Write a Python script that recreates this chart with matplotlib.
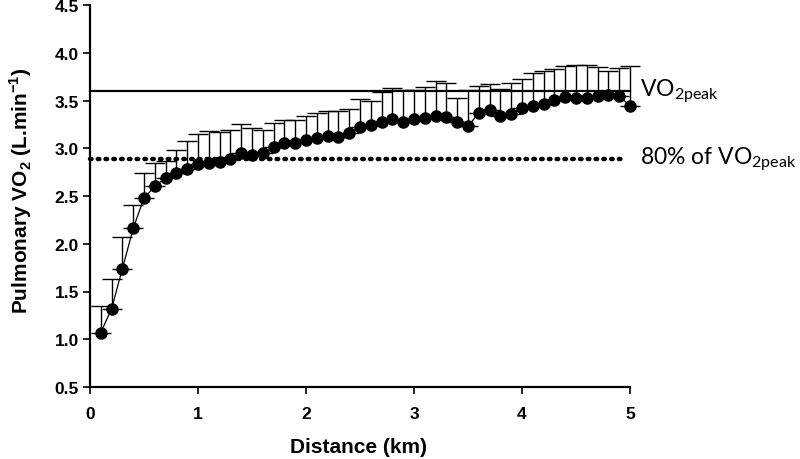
import matplotlib
matplotlib.use("Agg")
import matplotlib.pyplot as plt
import numpy as np

plt.rcParams['mathtext.fontset'] = 'custom'
plt.rcParams['mathtext.rm'] = 'Lato'
plt.rcParams['mathtext.bf'] = 'Liberation Sans:bold'

distance = [0.1, 0.2, 0.3, 0.4, 0.5, 0.6, 0.7, 0.8, 0.9, 1.0,
            1.1, 1.2, 1.3, 1.4, 1.5, 1.6, 1.7, 1.8, 1.9, 2.0,
            2.1, 2.2, 2.3, 2.4, 2.5, 2.6, 2.7, 2.8, 2.9, 3.0,
            3.1, 3.2, 3.3, 3.4, 3.5, 3.6, 3.7, 3.8, 3.9, 4.0,
            4.1, 4.2, 4.3, 4.4, 4.5, 4.6, 4.7, 4.8, 4.9, 5.0]
vo2_mean = [1.07, 1.32, 1.74, 2.16, 2.48, 2.60, 2.69, 2.74, 2.78, 2.83,
            2.85, 2.86, 2.89, 2.95, 2.93, 2.95, 3.01, 3.05, 3.06, 3.09,
            3.11, 3.13, 3.12, 3.16, 3.22, 3.24, 3.28, 3.31, 3.28, 3.31,
            3.32, 3.34, 3.33, 3.28, 3.23, 3.37, 3.40, 3.34, 3.36, 3.42,
            3.44, 3.46, 3.51, 3.54, 3.53, 3.53, 3.55, 3.56, 3.55, 3.44]
vo2_upper = [1.35, 1.63, 2.07, 2.41, 2.74, 2.85, 2.87, 2.98, 3.08, 3.15,
             3.18, 3.17, 3.19, 3.25, 3.21, 3.19, 3.26, 3.30, 3.30, 3.34,
             3.37, 3.39, 3.39, 3.41, 3.52, 3.50, 3.59, 3.63, 3.61, 3.61,
             3.64, 3.70, 3.68, 3.53, 3.61, 3.65, 3.67, 3.62, 3.68, 3.72,
             3.79, 3.81, 3.83, 3.86, 3.87, 3.87, 3.85, 3.81, 3.84, 3.86]
vo2_peak = 3.60
vo2_80 = 2.89
x_ticks = [0, 1, 2, 3, 4, 5]
y_ticks = [0.5, 1.0, 1.5, 2.0, 2.5, 3.0, 3.5, 4.0, 4.5]

fig = plt.figure(figsize=(8, 4.6), dpi=100)
ax = fig.add_axes([90/800, 1-388/460, 540/800, 382/460])

mean = np.array(vo2_mean)
upper = np.array(vo2_upper)
yerr = np.vstack([np.zeros_like(mean), upper - mean])

ax.errorbar(distance, vo2_mean, yerr=yerr, fmt='none', ecolor='black',
            elinewidth=1.0, capsize=7.5, capthick=1.0, clip_on=False, zorder=2)
ax.plot(distance, vo2_mean, color='black', lw=0.9, marker='o', ms=8,
        mfc='black', mec='black', clip_on=False, zorder=3)

ax.plot([0, 5], [vo2_peak, vo2_peak], color='black', lw=1.6, clip_on=False, zorder=4)
ax.plot([0, 4.95], [vo2_80, vo2_80], color='black', lw=3.2,
        dashes=(0.35, 1.4), dash_capstyle='round', clip_on=False, zorder=1)

ax.text(5.09, vo2_peak, r'VO$_{\mathrm{2peak}}$', fontsize=16.5, family='Lato',
        va='center', ha='left', clip_on=False)
ax.text(5.09, vo2_80, r'80% of VO$_{\mathrm{2peak}}$', fontsize=16.5, family='Lato',
        va='center', ha='left', clip_on=False)

ax.set_xlim(0, 5)
ax.set_ylim(0.5, 4.5)
ax.set_xticks(x_ticks)
ax.set_yticks(y_ticks)
ax.set_xticklabels([str(t) for t in x_ticks])
ax.set_yticklabels([f'{t:.1f}' for t in y_ticks])
for lbl in ax.get_xticklabels() + ax.get_yticklabels():
    lbl.set_fontfamily('Liberation Sans')
    lbl.set_fontweight('bold')
    lbl.set_fontsize(12.5)
ax.tick_params(direction='out', length=5, width=1.2, colors='black')
ax.tick_params(axis='y', pad=3)
ax.tick_params(axis='x', pad=9)

ax.spines['top'].set_visible(False)
ax.spines['right'].set_visible(False)
ax.spines['left'].set_linewidth(1.6)
ax.spines['bottom'].set_linewidth(1.6)

fig.text(359/800, 1-448/460, 'Distance (km)', fontsize=15, fontweight='bold',
         family='Liberation Sans', ha='center', va='center')
fig.text(21/800, 1-191/460, r'Pulmonary VO$_\mathbf{2}$ (L.min$^\mathbf{-1}$)',
         fontsize=15, fontweight='bold', family='Liberation Sans',
         ha='center', va='center', rotation=90)

fig.savefig('out.png', dpi=100)
